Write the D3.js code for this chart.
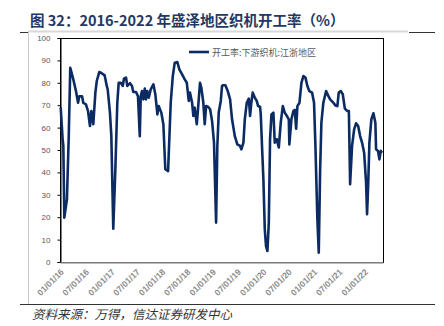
<!DOCTYPE html>
<html><head><meta charset="utf-8">
<script src="https://cdn.jsdelivr.net/npm/d3@7"></script>
<style>body{margin:0;background:#fff}svg{display:block}</style>
</head><body>
<script>
const dates = ["2016-01-06","2016-01-20","2016-01-25","2016-02-01","2016-02-20","2016-03-04","2016-03-15","2016-04-06","2016-04-25","2016-05-10","2016-05-19","2016-06-08","2016-06-17","2016-07-06","2016-07-21","2016-08-04","2016-08-14","2016-08-28","2016-09-12","2016-09-22","2016-10-10","2016-10-25","2016-11-18","2016-12-03","2016-12-10","2016-12-26",
"2017-01-05","2017-01-19","2017-02-03","2017-02-17","2017-02-27","2017-03-14","2017-03-28","2017-04-06","2017-04-21","2017-04-30","2017-05-20","2017-06-03","2017-06-12","2017-07-02","2017-07-16","2017-07-29","2017-08-05","2017-08-14","2017-08-24","2017-09-03","2017-09-12","2017-09-21","2017-10-02","2017-10-16","2017-11-04","2017-11-18","2017-12-03","2017-12-13","2017-12-31",
"2018-01-15","2018-01-29","2018-02-18","2018-03-09","2018-03-24","2018-04-07","2018-04-26","2018-05-10","2018-05-30","2018-06-18","2018-07-03","2018-07-17","2018-07-26","2018-08-10","2018-08-19","2018-08-29","2018-09-13","2018-09-22","2018-10-06","2018-10-16","2018-10-30","2018-11-09","2018-11-19","2018-12-03","2018-12-18",
"2019-01-01","2019-01-15","2019-01-30","2019-02-08","2019-02-18","2019-03-05","2019-03-14","2019-03-23","2019-04-07","2019-04-24","2019-05-11","2019-05-25","2019-06-14","2019-07-02","2019-07-22","2019-07-31","2019-08-15","2019-08-25","2019-09-08","2019-09-23","2019-10-02","2019-10-11","2019-10-21","2019-11-05","2019-11-19","2019-11-29","2019-12-13","2019-12-18","2019-12-27",
"2020-01-06","2020-01-16","2020-01-25","2020-02-04","2020-02-14","2020-02-23","2020-03-04","2020-03-18","2020-03-28","2020-04-11","2020-04-26","2020-05-10","2020-05-25","2020-06-08","2020-06-23","2020-07-07","2020-07-11","2020-07-26","2020-08-09","2020-08-19","2020-08-29","2020-09-07","2020-09-22","2020-10-06","2020-10-20","2020-11-04","2020-11-18","2020-12-02","2020-12-22",
"2021-01-05","2021-01-15","2021-01-29","2021-02-08","2021-02-18","2021-02-27","2021-03-13","2021-04-02","2021-04-16","2021-05-01","2021-05-20","2021-06-08","2021-06-22","2021-07-02","2021-07-17","2021-07-31","2021-08-15","2021-09-02","2021-09-13","2021-09-22","2021-10-06","2021-10-21","2021-11-04","2021-11-19","2021-12-03","2021-12-17",
"2022-01-01","2022-01-15","2022-01-22","2022-01-30","2022-02-08","2022-02-22","2022-03-09","2022-03-23","2022-03-28","2022-04-11","2022-04-21","2022-05-01","2022-05-10"];
const rate = [69,54.8,51.8,19.8,28,56,86.7,81.5,76.3,71.1,74,74,71,70.4,67.4,60.7,67.4,61.5,75.6,80.8,84.8,84.4,83.3,78.6,77,66.7,
56.2,14.9,41.4,71.1,80,80,78.6,81.8,82.3,78.6,79.8,78.6,75.9,75.9,74,56.2,74,76.3,72.6,77.4,72.6,76.3,73.4,77.1,79.3,74.9,65.9,69.6,66.7,
61.5,41.4,40.6,71.1,83,89,89.3,86,83.8,81.5,80,71.9,75.6,71.1,65.2,68.9,61.5,68.5,80,77.7,71.1,61.5,69.6,69.3,68.2,
63,53.3,17.6,51.8,66.7,72,78.6,78.9,78.9,76.3,72.6,63.7,56.2,52.5,51.8,50.3,53.3,63.7,71.1,72.9,65.2,71.1,75.6,73.4,71.9,69.6,69.3,65.9,51.8,
36.9,14.6,7.1,4.9,17.6,54.8,65.9,66.7,53.3,54.8,51.1,62.2,69.6,66.7,65.2,63.7,52.5,63.7,67.4,67.9,59.5,69.6,71.1,80,83,82.3,78.6,76.3,75.6,
71.1,51.8,19,4.2,41.4,62.2,71.1,76.3,74.4,72.6,71.4,69.9,69.6,75.6,76.3,74.9,68.5,67.4,67.4,34.7,51.8,59.2,61.9,60.7,56.2,53.3,
48.8,35.4,21.3,33.9,53.3,63.7,66.4,62.2,50.3,49.6,45.8,49.6,48.8];
const yTicks = [0,10,20,30,40,50,60,70,80,90,100];
const xTickDates = ["2016-01-01","2016-07-01","2017-01-01","2017-07-01","2018-01-01","2018-07-01","2019-01-01","2019-07-01","2020-01-01","2020-07-01","2021-01-01","2021-07-01","2022-01-01"];
const seriesName = "开工率:下游织机:江浙地区";
const titleText = "图 32：2016-2022 年盛泽地区织机开工率（%）";
const sourceText = "资料来源：万得，信达证券研发中心";

const W = 444, H = 326;
const parse = d3.timeParse("%Y-%m-%d");
const data = dates.map((d,i)=>({date:parse(d), v:rate[i]}));
const svg = d3.select("body").append("svg").attr("width",W).attr("height",H);

// frame
svg.append("line").attr("x1",28.5).attr("x2",28.5).attr("y1",31).attr("y2",305).attr("stroke","#c8c8c8").attr("stroke-width",1);
svg.append("line").attr("x1",28).attr("x2",408).attr("y1",31.5).attr("y2",31.5).attr("stroke","#d8d8d8").attr("stroke-width",2);
svg.append("line").attr("x1",20).attr("x2",28).attr("y1",32.5).attr("y2",32.5).attr("stroke","#333").attr("stroke-width",1);
svg.append("line").attr("x1",409).attr("x2",435).attr("y1",32.5).attr("y2",32.5).attr("stroke","#333").attr("stroke-width",1);
svg.append("line").attr("x1",20).attr("x2",435).attr("y1",304.5).attr("y2",304.5).attr("stroke","#333").attr("stroke-width",1);

svg.append("text").attr("x",30).attr("y",26).attr("font-family","'Noto Sans CJK SC',sans-serif")
  .attr("font-weight","bold").attr("font-size",14.5).attr("fill","#1f3864").text(titleText);
svg.append("text").attr("x",32).attr("y",318.5).attr("font-family","'Noto Sans CJK SC',sans-serif")
  .attr("font-style","italic").attr("font-size",12.5).attr("fill","#333").text(sourceText);

const x0=60, x1=383, y0=262, y1=38;
const x = d3.scaleTime().domain([parse("2016-01-01"), parse("2022-05-17")]).range([x0, x1]);
const y = d3.scaleLinear().domain([0,100]).range([y0, y1]);

// plot border
svg.append("rect").attr("x",x0+0.5).attr("y",y1+0.5).attr("width",x1-x0).attr("height",y0-y1)
  .attr("fill","none").attr("stroke","#000").attr("stroke-width",1);

// y axis
const ya = svg.append("g").attr("transform",`translate(${x0+0.5},0)`)
  .call(d3.axisLeft(y).tickValues(yTicks).tickSize(3).tickPadding(7));
ya.select(".domain").attr("stroke","#000");
ya.selectAll(".tick line").attr("stroke","#000");
ya.selectAll("text").attr("font-family","Liberation Sans, Arial, sans-serif").attr("font-size",8).attr("fill","#595959");

// x axis
const xa = svg.append("g").attr("transform",`translate(0,${y0+0.5})`)
  .call(d3.axisBottom(x).tickValues(xTickDates.map(parse)).tickSize(0).tickFormat(d3.timeFormat("%m/%d/%y")));
xa.select(".domain").attr("stroke","#a6a6a6").attr("stroke-width",1.5);
xa.selectAll("text").attr("font-family","Liberation Sans, Arial, sans-serif").attr("font-size",8.6)
  .attr("font-weight","bold").attr("fill","#8c8c8c")
  .attr("text-anchor","end").attr("dy",0).attr("y",0)
  .attr("transform","translate(4,10) rotate(-45)");

// line
svg.append("path").datum(data).attr("fill","none").attr("stroke","#0c2b63").attr("stroke-width",2.6)
  .attr("stroke-linejoin","round")
  .attr("d", d3.line().x(d=>x(d.date)).y(d=>y(d.v)));

// legend
svg.append("line").attr("x1",189).attr("x2",209).attr("y1",52).attr("y2",52).attr("stroke","#0c2b63").attr("stroke-width",2.6);
svg.append("text").attr("x",212).attr("y",55.5).attr("font-family","'Noto Sans CJK SC',sans-serif")
  .attr("font-size",9).attr("fill","#595959").text(seriesName);
</script>
</body></html>
